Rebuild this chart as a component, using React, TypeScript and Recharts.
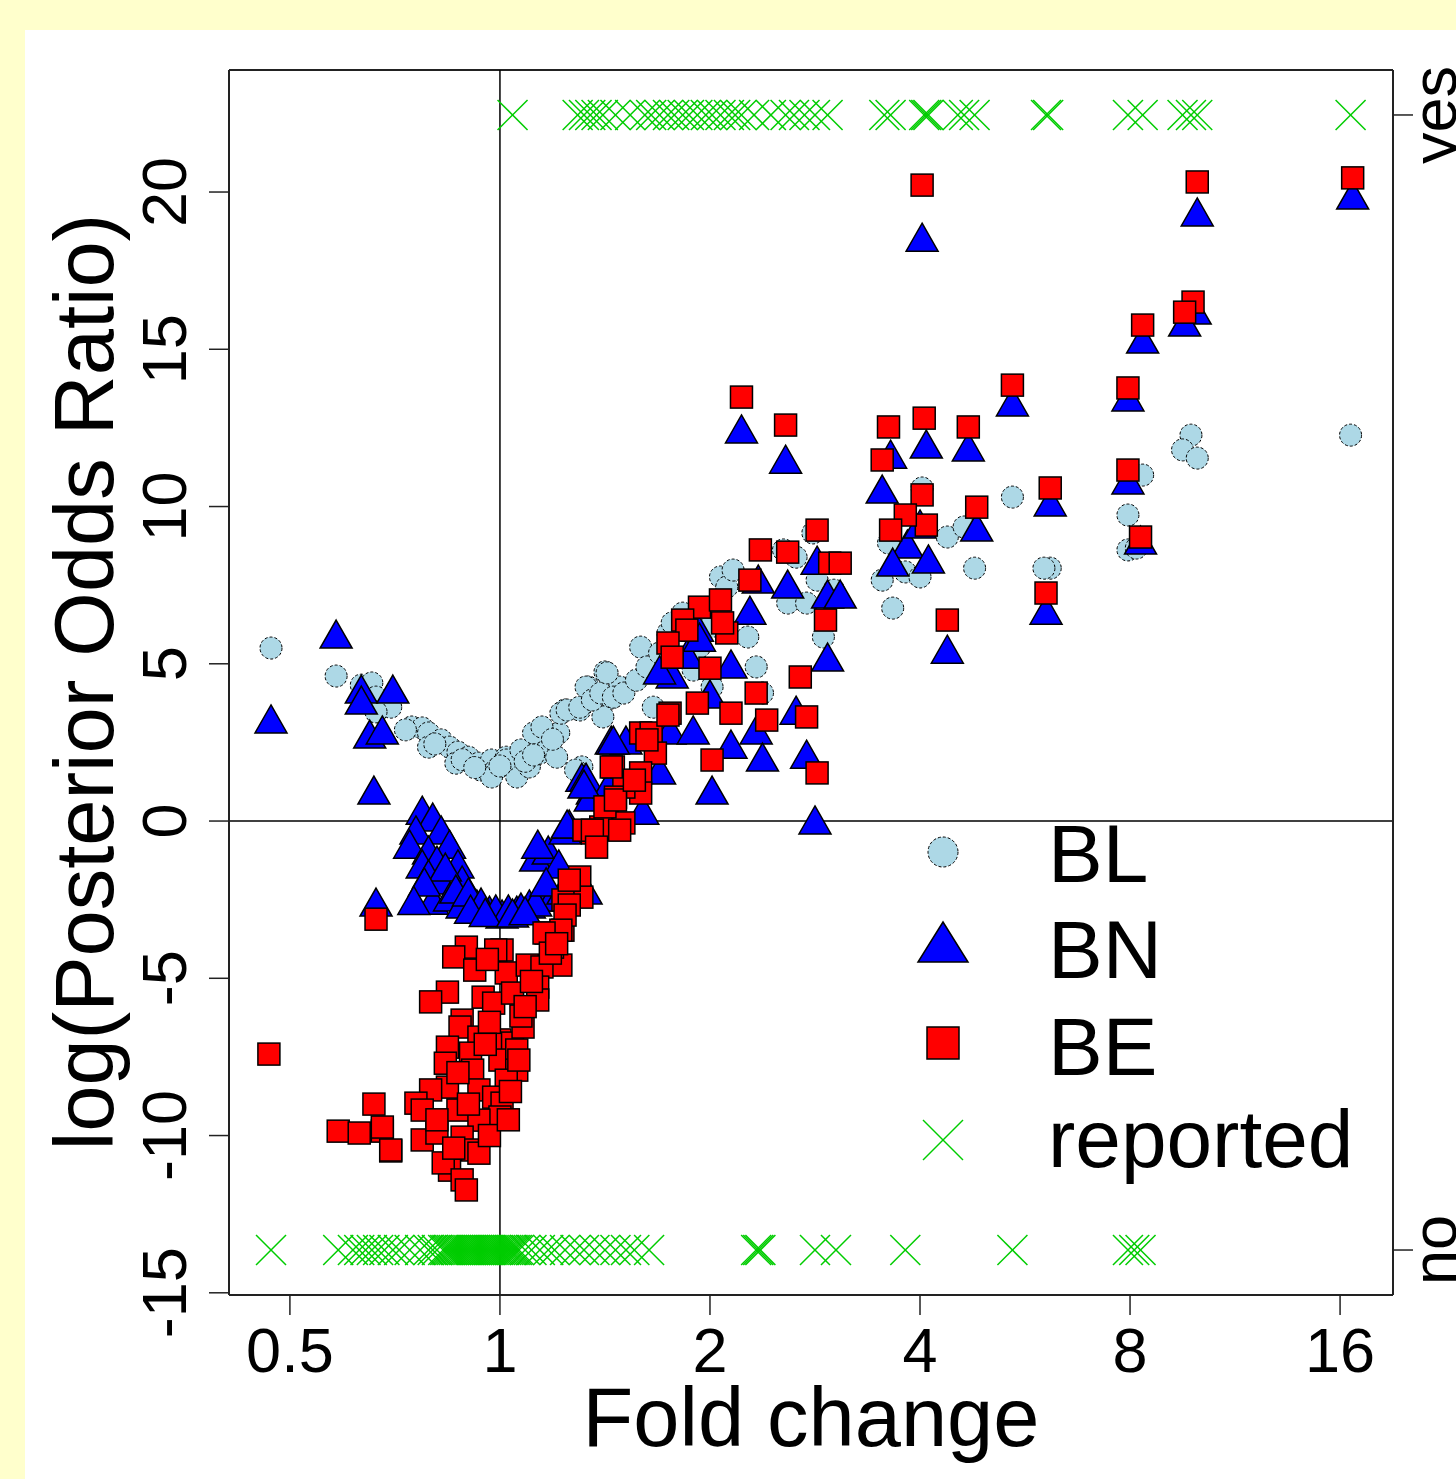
import React from 'react';
import { ScatterChart, Scatter, XAxis, YAxis, ReferenceLine } from 'recharts';

// x values are log2(fold change), y values are log(posterior odds ratio)
const blPoints: [number, number][] = [
  [-1.09, 5.5], [-0.78, 4.61], [-0.66, 4.32], [-0.61, 4.39], [-0.59, 3.94], [-0.52, 3.62], [-0.59, 3.47],
  [-0.42, 2.99], [-0.37, 2.96], [-0.34, 2.8], [-0.34, 2.35], [-0.28, 2.58], [-0.24, 2.35], [-0.2, 2.19],
  [-0.21, 1.84], [-0.15, 2.03], [-0.1, 1.84], [-0.09, 1.62], [-0.04, 1.94], [-0.02, 1.62], [-0.04, 1.4],
  [0.03, 2.03], [0.06, 1.72], [0.08, 1.4], [0.1, 2.03], [0.14, 1.72], [0.19, 2.16], [0.2, 2.58], [0.23, 2.35],
  [0.28, 2.8], [0.27, 2.03], [0.31, 3.53], [0.38, 3.53], [0.42, 4.26], [0.5, 4.74], [0.53, 3.91], [0.49, 3.31],
  [0.39, 1.72], [0.57, 4.26], [0.03, 1.94], [0.1, 2.26], [0.16, 2.8], [0.2, 2.99], [0.29, 3.43], [0.32, 3.53],
  [0.38, 3.62], [0.41, 4.26], [0.44, 3.85], [0.48, 4.07], [0.51, 4.71], [0.54, 3.94], [0.59, 4.07], [0.65, 4.48],
  [0.67, 5.53], [0.7, 4.9], [0.73, 3.62], [0.76, 5.34], [0.8, 5.98], [0.82, 6.3], [0.87, 6.61], [0.92, 4.8],
  [0.95, 5.53], [1.0, 6.17], [1.01, 4.26], [1.05, 7.76], [1.08, 7.44], [1.11, 7.98], [1.18, 5.85], [1.22, 4.9],
  [1.25, 4.07], [1.35, 8.62], [1.41, 8.39], [1.37, 6.93], [1.46, 6.93], [1.49, 9.16], [1.51, 7.66], [1.54, 5.85],
  [1.59, 7.34], [0.36, 1.62], [-0.45, 2.9], [-0.31, 2.45], [-0.18, 1.95], [-0.12, 1.7], [0.0, 1.75], [0.12, 1.9],
  [0.16, 2.1], [0.25, 2.6],
  [3.29, 12.27], [3.25, 11.8], [3.32, 11.54], [3.06, 11.0], [2.99, 9.73], [2.99, 8.62], [3.03, 8.68],
  [2.44, 10.3], [2.62, 8.04], [2.59, 8.04], [2.26, 8.04], [2.13, 9.03], [2.21, 9.35], [1.87, 6.77], [1.82, 7.66],
  [1.93, 7.92], [2.0, 7.76], [1.85, 8.84], [2.01, 10.59], [4.05, 12.27],
];

const bnPoints: [number, number][] = [
  [-1.09, 3.15], [-0.78, 5.85], [-0.66, 4.1], [-0.66, 3.75], [-0.51, 4.1], [-0.62, 2.67], [-0.56, 2.8],
  [-0.6, 0.89], [-0.59, -2.67],
  [-0.37, 0.25], [-0.32, 0.03], [-0.4, -0.38], [-0.28, -0.38], [-0.43, -0.83], [-0.34, -1.02], [-0.24, -0.83],
  [-0.37, -1.46], [-0.3, -1.34], [-0.2, -1.46], [-0.34, -1.78], [-0.28, -1.97], [-0.18, -1.97], [-0.32, -2.61],
  [-0.24, -2.51], [-0.18, -2.73], [-0.11, -2.73], [-0.05, -2.93], [0.01, -3.05], [0.08, -2.93], [0.14, -2.73],
  [0.2, -2.51], [0.17, -1.24], [0.23, -1.02], [0.28, -1.46], [0.31, -0.38], [0.33, -0.19], [0.25, -2.51],
  [0.3, -2.29], [0.41, -2.29], [0.39, 1.3], [0.44, 0.89], [0.53, 2.48], [0.6, 2.48],
  [-0.26, -1.56], [-0.21, -2.26], [-0.15, -2.35], [-0.09, -2.67], [-0.02, -2.89], [0.04, -2.89], [0.1, -2.83],
  [0.17, -2.67], [0.22, -2.03], [-0.36, -2.03], [-0.14, -2.9], [-0.07, -3.0], [0.06, -3.02], [0.12, -2.95],
  [-0.41, -2.62],
  [0.18, -0.83], [0.32, -0.19], [0.41, 1.3], [0.43, 0.67], [0.54, 2.48], [0.68, 0.25], [0.76, 1.53], [0.82, 4.58],
  [0.89, 5.21], [0.94, 6.07], [0.81, 2.8], [0.92, 2.8], [1.0, 3.94], [1.1, 4.9], [1.1, 2.35], [1.01, 0.89],
  [1.19, 6.61], [1.22, 2.8], [1.25, 1.94], [1.37, 7.44], [1.51, 8.2], [1.56, 7.12], [1.62, 7.12], [1.56, 5.12],
  [1.41, 3.43], [1.46, 2.03], [1.5, -0.06], [0.95, 5.75], [0.76, 4.71], [0.52, 1.08], [0.4, 1.08],
  [1.15, 12.37], [1.36, 11.41], [1.23, 7.6],
  [2.01, 18.47], [3.32, 19.27], [3.31, 16.15], [3.26, 15.77], [3.06, 15.23], [2.99, 13.39], [2.99, 10.75],
  [3.05, 8.84], [2.44, 13.23], [2.62, 10.05], [2.6, 6.61], [2.13, 5.37], [2.27, 9.25], [2.03, 11.89],
  [2.23, 11.8], [1.86, 11.57], [1.82, 10.46], [1.94, 8.71], [1.87, 8.14], [2.04, 8.24], [2.0, 9.35], [4.06, 19.81],
];

const bePoints: [number, number][] = [
  [2.01, 20.22], [3.32, 20.32], [4.06, 20.45], [3.3, 16.5], [3.26, 16.18], [3.06, 15.77], [2.99, 13.77],
  [2.99, 11.16], [3.05, 9.03], [2.44, 13.86], [2.62, 10.59], [2.6, 7.25], [2.13, 6.39], [2.27, 9.98],
  [2.23, 12.53], [2.02, 12.81], [1.85, 12.53], [1.82, 11.48], [2.01, 10.37], [2.03, 9.41], [1.93, 9.73],
  [1.86, 9.25],
  [1.15, 13.48], [1.36, 12.59], [1.51, 9.25], [1.24, 8.62], [1.37, 8.55], [1.57, 8.2], [1.62, 8.2], [1.19, 7.66],
  [1.55, 6.39], [0.95, 6.8], [1.05, 7.03], [1.08, 5.98], [1.06, 6.3], [0.87, 6.39], [0.89, 6.07], [0.8, 5.66],
  [0.82, 5.21], [1.0, 4.86], [1.43, 4.58], [1.22, 4.07], [0.94, 3.75], [1.1, 3.43], [0.81, 3.43], [1.27, 3.21],
  [1.46, 3.31], [1.01, 1.94], [1.51, 1.53], [0.67, 2.8], [0.72, 2.8], [0.74, 2.16], [0.54, 1.72], [0.67, 1.53],
  [0.67, 0.89], [0.59, 1.08], [0.55, 0.76], [0.51, 0.45], [0.59, -0.06], [0.44, -0.38], [0.48, -0.19],
  [0.4, -0.29],
  [0.53, 1.72], [0.5, 0.45], [0.55, 0.67], [0.44, -0.29], [0.46, -0.83], [0.38, -1.78], [0.39, -2.42],
  [0.3, -2.51], [0.3, -3.47], [0.22, -3.56], [0.33, -1.88], [0.57, -0.29], [0.64, 1.3], [0.7, 2.58], [0.8, 3.37],
  [0.33, -2.67], [0.31, -2.99], [0.29, -4.58],
  [-0.59, -3.12], [-1.1, -7.41], [-0.77, -9.86], [-0.67, -9.92], [-0.6, -9.0], [-0.56, -9.86], [-0.52, -10.49],
  [0.29, -3.47], [0.25, -4.01], [0.21, -3.56], [-0.16, -4.01], [-0.22, -4.32], [-0.12, -4.74], [0.01, -4.1],
  [-0.02, -4.1], [0.03, -4.83], [0.13, -4.58], [0.2, -4.64], [0.18, -5.28], [0.18, -5.69], [-0.25, -5.44],
  [-0.33, -5.75], [-0.08, -5.6], [-0.03, -5.79], [0.06, -5.47], [-0.18, -6.33], [-0.19, -6.55], [-0.1, -6.87],
  [0.0, -6.96], [0.06, -7.06], [0.11, -6.55], [-0.25, -7.19], [-0.26, -7.7], [-0.14, -7.38], [0.0, -7.6],
  [0.08, -7.28], [0.08, -7.92], [-0.13, -7.92], [0.03, -8.24], [-0.1, -8.55], [-0.25, -8.46], [-0.33, -8.55],
  [-0.4, -8.97], [-0.37, -9.19], [-0.2, -9.19], [-0.03, -8.78], [0.01, -8.97], [0.0, -9.41], [-0.1, -9.51],
  [-0.37, -10.14], [-0.3, -9.92], [-0.18, -10.05], [-0.13, -10.46], [-0.1, -10.56], [-0.24, -11.1],
  [-0.27, -10.87], [-0.18, -11.41], [-0.16, -11.73], [-0.52, -10.46], [-0.56, -9.73],
  [-0.05, -6.4], [0.1, -6.2], [-0.07, -7.1], [-0.2, -8.0], [0.05, -8.6], [-0.15, -9.0], [-0.3, -9.5],
  [-0.05, -10.0], [-0.22, -10.4], [0.12, -5.9], [0.15, -5.1], [0.24, -4.2], [0.27, -3.9], [-0.06, -4.4],
  [0.09, -7.6], [0.04, -9.5],
];

// reported genes: log2 fold change of those marked yes / no
const reportedYes: number[] = [
  0.06, 0.37, 0.4, 0.43, 0.46, 0.49, 0.55, 0.62, 0.69, 0.72, 0.76, 0.8, 0.83, 0.87, 0.9, 0.94, 0.98, 1.01,
  1.05, 1.09, 1.12, 1.15, 1.21, 1.29, 1.36, 1.4, 1.45, 1.5, 1.56, 1.83, 1.86, 2.02, 2.03, 2.04, 2.18, 2.21,
  2.26, 2.6, 2.61, 2.99, 3.06, 3.25, 3.29, 3.32, 4.05,
];
const reportedNo: number[] = [
  -1.09, -0.77, -0.7, -0.67, -0.64, -0.61, -0.58, -0.55, -0.51, -0.48, -0.43, -0.38, -0.34, -0.32, -0.3,
  -0.27, -0.26, -0.25, -0.24, -0.23, -0.22, -0.21, -0.2, -0.19, -0.18, -0.17, -0.16, -0.15, -0.14, -0.13,
  -0.12, -0.11, -0.1, -0.09, -0.08, -0.07, -0.06, -0.05, -0.04, -0.03, -0.02, -0.01, 0.0, 0.01, 0.02, 0.03,
  0.04, 0.05, 0.06, 0.07, 0.08, 0.09, 0.12, 0.15, 0.19, 0.23, 0.26, 0.31, 0.36, 0.4, 0.45, 0.5, 0.55, 0.6,
  0.64, 0.71, 1.22, 1.23, 1.24, 1.5, 1.6, 1.93, 2.44, 2.99, 3.02, 3.05,
];
const YES_LEVEL = 22.45;
const NO_LEVEL = -13.64;

const xTicks = [-1, 0, 1, 2, 3, 4];
const yTicks = [-15, -10, -5, 0, 5, 10, 15, 20];
const X_DOMAIN: [number, number] = [-1.29, 4.252];
const Y_DOMAIN: [number, number] = [-15.07, 23.88];

const FONT = '"Liberation Sans", Arial, Helvetica, sans-serif';
const GREEN = '#00CC00';

const toXY = (pts: [number, number][]) => pts.map(([x, y]) => ({ x, y }));
const blData = toXY(blPoints);
const bnData = toXY(bnPoints);
const beData = toXY(bePoints);
const yesData = reportedYes.map((x) => ({ x, y: YES_LEVEL }));
const noData = reportedNo.map((x) => ({ x, y: NO_LEVEL }));

const CircleMark = (p: any) => (
  <circle cx={p.cx} cy={p.cy} r={11} fill="#ADD8E6" stroke="#000" strokeWidth={1} strokeDasharray="3 2" />
);
const TriangleMark = (p: any) => (
  <path
    d={`M${p.cx},${p.cy - 17} L${p.cx + 16},${p.cy + 11} L${p.cx - 16},${p.cy + 11} Z`}
    fill="#0000FF"
    stroke="#000"
    strokeWidth={1.5}
  />
);
const SquareMark = (p: any) => (
  <rect x={p.cx - 11} y={p.cy - 11} width={22} height={22} fill="#FF0000" stroke="#000" strokeWidth={1.5} />
);
const CrossMark = (p: any) => (
  <g stroke={GREEN} strokeWidth={1.5}>
    <line x1={p.cx - 15} y1={p.cy - 15} x2={p.cx + 15} y2={p.cy + 15} />
    <line x1={p.cx - 15} y1={p.cy + 15} x2={p.cx + 15} y2={p.cy - 15} />
  </g>
);

const XTick = (p: any) => (
  <text x={p.x} y={p.y + 55} textAnchor="middle" fontSize={63} fontFamily={FONT} fill="#000">
    {String(Math.pow(2, p.payload.value))}
  </text>
);
const YTick = (p: any) => {
  const bx = p.x - 21;
  return (
    <text x={bx} y={p.y} transform={`rotate(-90 ${bx} ${p.y})`} textAnchor="middle" fontSize={63} fontFamily={FONT} fill="#000">
      {p.payload.value}
    </text>
  );
};
const RightTick = (p: any) => {
  const bx = p.x + 41;
  return (
    <text x={bx} y={p.y} transform={`rotate(-90 ${bx} ${p.y})`} textAnchor="middle" fontSize={63} fontFamily={FONT} fill="#000">
      {p.payload.value > 0 ? 'yes' : 'no'}
    </text>
  );
};

const LegendBlock = () => {
  const sx = 943;
  const tx = 1048;
  return (
    <g fontFamily={FONT} fontSize={82} fill="#000">
      <circle cx={sx} cy={852} r={15} fill="#ADD8E6" stroke="#000" strokeWidth={1} strokeDasharray="3 2" />
      <text x={tx} y={882}>BL</text>
      <path d={`M${sx},${922} L${sx + 25},${962} L${sx - 25},${962} Z`} fill="#0000FF" stroke="#000" strokeWidth={1.5} />
      <text x={tx} y={978}>BN</text>
      <rect x={sx - 16} y={1027} width={32} height={32} fill="#FF0000" stroke="#000" strokeWidth={1.5} />
      <text x={tx} y={1075}>BE</text>
      <g stroke={GREEN} strokeWidth={1.5}>
        <line x1={sx - 20} y1={1120} x2={sx + 20} y2={1160} />
        <line x1={sx - 20} y1={1160} x2={sx + 20} y2={1120} />
      </g>
      <text x={tx} y={1167}>reported</text>
    </g>
  );
};

export default function App() {
  return (
    <div style={{ position: 'absolute', left: 0, top: 0, width: 1456, height: 1479, background: '#FFFFCC', overflow: 'hidden' }}>
      <div style={{ position: 'absolute', left: 25, top: 30, right: 0, bottom: 0, background: '#FFFFFF' }} />
      <div style={{ position: 'absolute', left: 0, top: 0 }}>
        <ScatterChart width={1456} height={1479} margin={{ top: 70, right: 3, bottom: 84, left: 109 }}>
          <XAxis
            type="number"
            dataKey="x"
            domain={X_DOMAIN}
            ticks={xTicks}
            allowDataOverflow
            height={100}
            tickSize={20}
            tick={<XTick />}
            axisLine={{ stroke: '#222', strokeWidth: 2 }}
            tickLine={{ stroke: '#222', strokeWidth: 1.5 }}
          />
          <YAxis
            yAxisId="left"
            type="number"
            dataKey="y"
            domain={Y_DOMAIN}
            ticks={yTicks}
            allowDataOverflow
            width={120}
            tickSize={20}
            tick={<YTick />}
            axisLine={{ stroke: '#222', strokeWidth: 2 }}
            tickLine={{ stroke: '#222', strokeWidth: 1.5 }}
          />
          <YAxis
            yAxisId="right"
            orientation="right"
            type="number"
            dataKey="y"
            domain={Y_DOMAIN}
            ticks={[YES_LEVEL, NO_LEVEL]}
            allowDataOverflow
            width={60}
            tickSize={20}
            tick={<RightTick />}
            axisLine={{ stroke: '#222', strokeWidth: 2 }}
            tickLine={{ stroke: '#222', strokeWidth: 1.5 }}
          />
          <ReferenceLine yAxisId="left" y={Y_DOMAIN[1]} stroke="#222" strokeWidth={2} />
          <ReferenceLine yAxisId="left" x={0} stroke="#000" strokeWidth={1.5} />
          <ReferenceLine yAxisId="left" y={0} stroke="#000" strokeWidth={1.5} />
          <Scatter yAxisId="left" data={blData} shape={CircleMark} isAnimationActive={false} />
          <Scatter yAxisId="left" data={bnData} shape={TriangleMark} isAnimationActive={false} />
          <Scatter yAxisId="left" data={beData} shape={SquareMark} isAnimationActive={false} />
          <Scatter yAxisId="left" data={yesData} shape={CrossMark} isAnimationActive={false} />
          <Scatter yAxisId="left" data={noData} shape={CrossMark} isAnimationActive={false} />
          <text x={113} y={682} transform="rotate(-90 113 682)" textAnchor="middle" fontSize={83} fontFamily={FONT} fill="#000">
            log(Posterior Odds Ratio)
          </text>
          <text x={811} y={1446} textAnchor="middle" fontSize={83} fontFamily={FONT} fill="#000">
            Fold change
          </text>
          <LegendBlock />
        </ScatterChart>
      </div>
    </div>
  );
}
